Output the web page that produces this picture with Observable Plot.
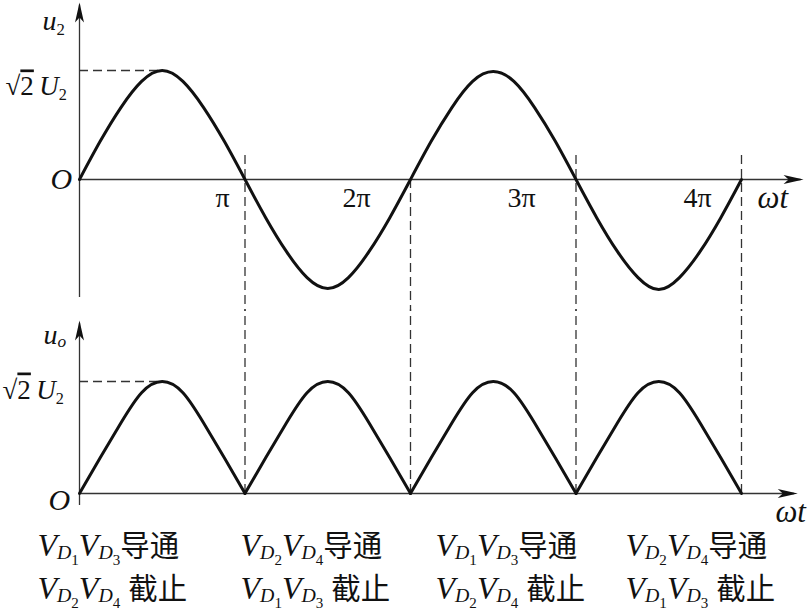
<!DOCTYPE html>
<html><head><meta charset="utf-8">
<script src="https://cdn.jsdelivr.net/npm/d3@7"></script>
<script src="https://cdn.jsdelivr.net/npm/@observablehq/plot@0.6"></script>
<style>
html,body{margin:0;padding:0;background:#fff;}
#chart{position:relative;width:809px;height:613px;overflow:hidden;background:#fff;}
#chart svg{position:absolute;left:0;}
#chart svg text{font-family:"Liberation Serif","DejaVu Serif",serif;}
</style></head><body><div id="chart"></div>
<script>
// ---- data (x in units of π) ----
const phase = [0,0.125,0.25,0.375,0.5,0.625,0.75,0.875,1,1.125,1.25,1.375,1.5,1.625,1.75,1.875,2,2.125,2.25,2.375,2.5,2.625,2.75,2.875,3,3.125,3.25,3.375,3.5,3.625,3.75,3.875,4];
const u2 = [0,0.35,0.66,0.9,1,0.9,0.66,0.35,0,-0.35,-0.66,-0.9,-1,-0.9,-0.66,-0.35,0,0.35,0.66,0.9,0.99,0.9,0.66,0.35,0,-0.35,-0.66,-0.9,-1.01,-0.9,-0.66,-0.35,0];
const uoPhase = [0,0.125,0.25,0.375,0.5,0.625,0.75,0.875,1, 1,1.125,1.25,1.375,1.5,1.625,1.75,1.875,2, 2,2.125,2.25,2.375,2.5,2.625,2.75,2.875,3, 3,3.125,3.25,3.375,3.5,3.625,3.75,3.875,4];
const uo = [0,0.32,0.63,0.9,1,0.9,0.63,0.32,0, 0,0.32,0.63,0.9,1,0.9,0.63,0.32,0, 0,0.32,0.63,0.9,1,0.9,0.63,0.32,0, 0,0.32,0.63,0.9,1,0.9,0.63,0.32,0];
const uoHump = [0,0,0,0,0,0,0,0,0, 1,1,1,1,1,1,1,1,1, 2,2,2,2,2,2,2,2,2, 3,3,3,3,3,3,3,3,3];
const piTicks = [1,2,3,4];
const piTickLabels = ["π","2π","3π","4π"];
const dashAboveAxis = [true,false,true,true];
const onPairs = [[1,3],[2,4],[1,3],[2,4]];
const offPairs = [[2,4],[1,3],[2,4],[1,3]];
const onWord = "导通", offWord = "截止";

// ---- layout helpers ----
const INK = "#111", AX = "#333";
const serif = "Liberation Serif";
const topRows = phase.map((p,i)=>({x:p, y:u2[i]}));
const botRows = uoPhase.map((p,i)=>({x:p, y:uo[i], h:uoHump[i]}));
const arrowRight = {draw(c){c.moveTo(0,0);c.lineTo(-20,-4.5);c.lineTo(-15,0);c.lineTo(-20,4.5);c.closePath();}};
const arrowUp = {draw(c){c.moveTo(0,0);c.lineTo(-4.5,20);c.lineTo(0,15);c.lineTo(4.5,20);c.closePath();}};
const pairMarkup = p => `i:V|s:D|ss:${p[0]}|i:V|s:D|ss:${p[1]}`;
const tickLabelAnchor = [0.822,1.589,2.586,3.650];
const colAnchor = [-0.254,0.973,2.151,3.299];

const topNotes = [
  {x:-0.224, y:1.367, t:"i:u|n:2", s:28},
  {x:-0.447, y:0.771, t:"r:√|o:2|r:\u2009|i:U|n:2", s:27},
  {x:-0.175, y:-0.083, t:"i:O", s:30},
  {x:4.097, y:-0.257, t:"i:ωt", s:31}
];
const botNotes = [
  {x:-0.218, y:1.339, t:"i:u|s:o", s:28},
  {x:-0.465, y:0.848, t:"r:√|o:2|r:\u2009|i:U|n:2", s:27},
  {x:-0.187, y:-0.143, t:"i:O", s:30},
  {x:4.205, y:-0.25, t:"i:ωt", s:31},
  ...onPairs.map((p,k)=>({x:colAnchor[k], y:-0.554, t:pairMarkup(p)+"|c:"+onWord, s:32})),
  ...offPairs.map((p,k)=>({x:colAnchor[k], y:-0.9375, t:pairMarkup(p)+"|r: |c:"+offWord, s:32}))
];

const dash = {stroke:AX, strokeWidth:1.3, strokeDasharray:"9,5"};
const axisLine = {stroke:AX, strokeWidth:1.3};
const noteText = {x:"x", y:"y", text:"t", fontSize:"s", textAnchor:"start", lineAnchor:"bottom", fill:INK};

const topPlot = Plot.plot({
  width:809, height:310, marginLeft:79, marginRight:68, marginTop:70, marginBottom:22,
  x:{domain:[0,4], axis:null}, y:{domain:[-1,1], axis:null},
  style:{fontFamily:serif, background:"transparent", overflow:"visible"},
  marks:[
    Plot.ruleX(piTicks, {x:d=>d, y1:(d,i)=>dashAboveAxis[i]?0.22:0, y2:-1.21, ...dash}),
    Plot.ruleY([1], {x1:0, x2:0.508, ...dash}),
    Plot.ruleY([0], {x1:0, x2:4.36, ...axisLine}),
    Plot.ruleX([0], {y1:-1.083, y2:1.6, ...axisLine}),
    Plot.dot([{x:4.375,y:0}], {x:"x", y:"y", symbol:arrowRight, fill:INK, stroke:null, r:6}),
    Plot.dot([{x:0,y:1.624}], {x:"x", y:"y", symbol:arrowUp, fill:INK, stroke:null, r:6}),
    Plot.line(topRows, {x:"x", y:"y", curve:"natural", stroke:INK, strokeWidth:3}),
    Plot.text(piTicks, {x:(d,i)=>tickLabelAnchor[i], y:-0.248, text:(d,i)=>piTickLabels[i], fontSize:28, textAnchor:"start", lineAnchor:"bottom", fill:INK}),
    Plot.text(topNotes, noteText)
  ]
});

const botPlot = Plot.plot({
  width:809, height:303, marginLeft:79, marginRight:68, marginTop:71, marginBottom:120,
  x:{domain:[0,4], axis:null}, y:{domain:[0,1], axis:null},
  style:{fontFamily:serif, background:"transparent", overflow:"visible"},
  marks:[
    Plot.ruleX(piTicks, {x:d=>d, y1:0, y2:1.64, ...dash}),
    Plot.ruleY([1], {x1:0, x2:0.47, ...dash}),
    Plot.ruleY([0], {x1:0, x2:4.32, ...axisLine}),
    Plot.ruleX([0], {y1:-0.107, y2:1.52, ...axisLine}),
    Plot.dot([{x:4.34,y:0}], {x:"x", y:"y", symbol:arrowRight, fill:INK, stroke:null, r:6}),
    Plot.dot([{x:0,y:1.545}], {x:"x", y:"y", symbol:arrowUp, fill:INK, stroke:null, r:6}),
    Plot.line(botRows, {x:"x", y:"y", z:"h", curve:"natural", stroke:INK, strokeWidth:3}),
    Plot.text(botNotes, noteText)
  ]
});

// ---- rich text: subscripts, overline, CJK ----
const STY = {
  i:{style:"italic"},
  r:{},
  o:{deco:"overline"},
  n:{size:0.6, shift:5},
  s:{style:"italic", size:0.62, shift:3},
  ss:{size:0.47, shift:9},
  c:{family:"Noto Sans CJK SC", size:0.92}
};
function enrich(svg){
  d3.select(svg).selectAll("text").each(function(){
    const t = this.textContent;
    if (!/^[a-z]+:/.test(t)) return;
    const el = d3.select(this); el.text(null);
    let cur = 0;
    for (const tok of t.split("|")) {
      const j = tok.indexOf(":"), k = tok.slice(0,j), s = tok.slice(j+1);
      const st = STY[k] || {};
      const sh = st.shift || 0;
      const ts = el.append("tspan").text(s);
      if (sh !== cur) ts.attr("dy", sh - cur);
      cur = sh;
      if (st.style) ts.style("font-style", st.style);
      if (st.size) ts.style("font-size", st.size + "em");
      if (st.family) ts.style("font-family", `"${st.family}", sans-serif`);
      if (st.deco) ts.attr("text-decoration", st.deco);
      ts.style("white-space","pre");
    }
  });
}
enrich(topPlot); enrich(botPlot);
topPlot.style.top = "0px"; botPlot.style.top = "310px";
document.getElementById("chart").append(topPlot, botPlot);
</script></body></html>
